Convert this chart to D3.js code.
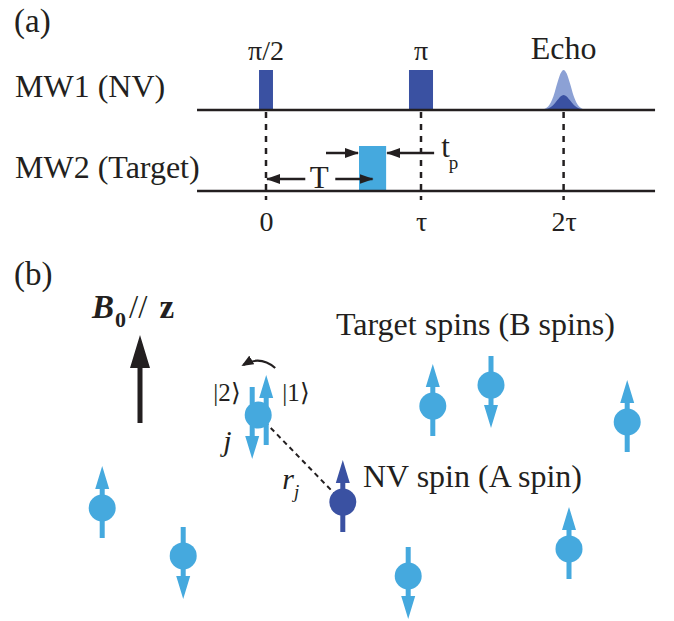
<!DOCTYPE html>
<html>
<head>
<meta charset="utf-8">
<script src="https://cdn.jsdelivr.net/npm/d3@7"></script>
<title>Pulse sequence and spins</title>
<style>
  body { margin: 0; background: #fff; }
  text { font-family: "Liberation Serif", "Times New Roman", serif; fill: #231f20; }
</style>
</head>
<body>
<div id="fig"></div>
<script>
// ---- (a) pulse sequence, time in units of tau ----
var tracks = ["MW1 (NV)", "MW2 (Target)"];
var tickTimes = [0, 1, 1.92];
var tickLabels = ["0", "\u03c4", "2\u03c4"];
var nvPulseLabels = ["\u03c0/2", "\u03c0"];
var nvPulseTimes = [0, 1];
var nvPulseWidths = [0.09, 0.155];
var targetPulse = [0.6, 0.775];   // start, end
var echoTime = 1.92;
var echoOffsets = [-0.14, -0.1, -0.065, -0.04, -0.02, 0, 0.02, 0.04, 0.065, 0.1, 0.14];
var echoOuter = [0.01, 0.09, 0.35, 0.68, 0.91, 1, 0.91, 0.68, 0.35, 0.09, 0.01];
var echoInner = [0, 0.035, 0.13, 0.25, 0.34, 0.375, 0.34, 0.25, 0.13, 0.035, 0];

// ---- (b) spins, sample coordinates 0..100 ----
var spinX = [8.7, 22.2, 63.8, 73.5, 96.2, 59.7, 86.5];
var spinY = [60, 77.1, 23.6, 16.1, 29.3, 84.3, 74.6];
var spinUp = [true, false, true, false, true, false, true];
var spinJ = [34.7, 26.8];
var spinNV = [48.8, 57.9];

var W = 674, H = 621;
var DARK = "#3a51a2", LIGHT = "#45a9de", PALE = "#8ca1d5", INK = "#231f20";

var svg = d3.select("#fig").append("svg")
  .attr("width", W).attr("height", H);

var defs = svg.append("defs");
defs.append("marker")
  .attr("id", "ah").attr("markerUnits", "userSpaceOnUse")
  .attr("viewBox", "0 0 14 10").attr("refX", 13).attr("refY", 5)
  .attr("markerWidth", 14).attr("markerHeight", 10).attr("orient", "auto")
  .append("path").attr("d", "M0,0 L14,5 L0,10 Z").attr("fill", INK);
defs.append("marker")
  .attr("id", "ahs").attr("markerUnits", "userSpaceOnUse")
  .attr("viewBox", "0 0 12 10").attr("refX", 10).attr("refY", 5)
  .attr("markerWidth", 12).attr("markerHeight", 10).attr("orient", "auto")
  .append("path").attr("d", "M0,0 L12,5 L0,10 Z").attr("fill", INK);

var xT = d3.scaleLinear().domain([0, 1]).range([266, 421]);
var yTrack = d3.scalePoint().domain(tracks).range([110, 191]);
var tLine = [-0.445, 2.51];

var ga = svg.append("g");

ga.append("text").attr("x", 14).attr("y", 32).attr("font-size", 33).text("(a)");

ga.selectAll(".trk").data(tracks).enter().append("text")
  .attr("class", "trk")
  .attr("x", 15).attr("y", function(d) { return yTrack(d) - 13; })
  .attr("font-size", 32)
  .text(function(d) { return d; });

// dashed time markers
ga.selectAll(".mark").data(tickTimes).enter().append("line")
  .attr("class", "mark")
  .attr("x1", function(d) { return xT(d); }).attr("x2", function(d) { return xT(d); })
  .attr("y1", yTrack(tracks[0]) + 2).attr("y2", 200)
  .attr("stroke", INK).attr("stroke-width", 2.5).attr("stroke-dasharray", "6,6");

// NV pulses
ga.selectAll(".nvp").data(nvPulseTimes).enter().append("rect")
  .attr("class", "nvp")
  .attr("x", function(d, i) { return xT(d - nvPulseWidths[i] / 2); })
  .attr("width", function(d, i) { return xT(nvPulseWidths[i]) - xT(0); })
  .attr("y", yTrack(tracks[0]) - 40).attr("height", 40)
  .attr("fill", DARK);

ga.selectAll(".nvl").data(nvPulseTimes).enter().append("text")
  .attr("class", "nvl")
  .attr("x", function(d) { return xT(d); }).attr("y", 60)
  .attr("text-anchor", "middle").attr("font-size", 28)
  .text(function(d, i) { return nvPulseLabels[i]; });

// echo
var echoPts = echoOffsets.map(function(o, i) { return {o: o, a: echoOuter[i], b: echoInner[i]}; });
var base1 = yTrack(tracks[0]);
ga.append("path").datum(echoPts)
  .attr("d", d3.area().curve(d3.curveMonotoneX)
    .x(function(d) { return xT(echoTime + d.o); })
    .y0(base1).y1(function(d) { return base1 - d.a * 40; }))
  .attr("fill", PALE);
ga.append("path").datum(echoPts)
  .attr("d", d3.area().curve(d3.curveMonotoneX)
    .x(function(d) { return xT(echoTime + d.o); })
    .y0(base1).y1(function(d) { return base1 - d.b * 40; }))
  .attr("fill", DARK);
ga.append("text").attr("x", xT(echoTime)).attr("y", 59)
  .attr("text-anchor", "middle").attr("font-size", 32).text("Echo");

// target pulse
var base2 = yTrack(tracks[1]);
ga.append("rect")
  .attr("x", xT(targetPulse[0])).attr("width", xT(targetPulse[1]) - xT(targetPulse[0]))
  .attr("y", base2 - 45).attr("height", 45).attr("fill", LIGHT);

// track lines
ga.selectAll(".tl").data(tracks).enter().append("line")
  .attr("class", "tl")
  .attr("x1", xT(tLine[0])).attr("x2", xT(tLine[1]))
  .attr("y1", function(d) { return yTrack(d); }).attr("y2", function(d) { return yTrack(d); })
  .attr("stroke", INK).attr("stroke-width", 2.5);

// T annotation: from 0 to pulse centre
var tMid = (targetPulse[0] + targetPulse[1]) / 2;
var yT = 179;
ga.append("line").attr("x1", xT(tMid / 2) - 14).attr("x2", xT(0) + 1)
  .attr("y1", yT).attr("y2", yT).attr("stroke", INK).attr("stroke-width", 2.5)
  .attr("marker-end", "url(#ah)");
ga.append("line").attr("x1", xT(tMid / 2) + 16).attr("x2", xT(tMid))
  .attr("y1", yT).attr("y2", yT).attr("stroke", INK).attr("stroke-width", 2.5)
  .attr("marker-end", "url(#ah)");
ga.append("text").attr("x", xT(tMid / 2)).attr("y", 188)
  .attr("text-anchor", "middle").attr("font-size", 31).text("T");

// t_p annotation
var yP = 153;
ga.append("line").attr("x1", xT(targetPulse[0]) - 33).attr("x2", xT(targetPulse[0]) - 1)
  .attr("y1", yP).attr("y2", yP).attr("stroke", INK).attr("stroke-width", 2.5)
  .attr("marker-end", "url(#ah)");
ga.append("line").attr("x1", xT(targetPulse[1]) + 48).attr("x2", xT(targetPulse[1]) + 1)
  .attr("y1", yP).attr("y2", yP).attr("stroke", INK).attr("stroke-width", 2.5)
  .attr("marker-end", "url(#ah)");
var tp = ga.append("text").attr("x", xT(targetPulse[1]) + 55).attr("y", 157).attr("font-size", 31);
tp.append("tspan").text("t");
tp.append("tspan").attr("font-size", 19).attr("dy", 12).attr("dx", -1).text("p");

// time axis labels
var axis = ga.append("g").attr("transform", "translate(0,211)")
  .call(d3.axisBottom(xT).tickValues(tickTimes).tickSize(0).tickPadding(0)
    .tickFormat(function(d, i) { return tickLabels[i]; }));
axis.select(".domain").remove();
axis.attr("font-family", null).attr("font-size", null);
axis.selectAll("text").attr("font-size", 28).attr("fill", INK);

// ---- (b) ----
var xs = d3.scaleLinear().domain([0, 100]).range([50, 650]);
var ys = d3.scaleLinear().domain([0, 100]).range([340, 620]);
var gb = svg.append("g");

gb.append("text").attr("x", 14).attr("y", 285).attr("font-size", 33).text("(b)");

var bt = gb.append("text").attr("x", 92).attr("y", 318).attr("font-size", 33);
bt.append("tspan").attr("font-weight", "bold").attr("font-style", "italic").text("B");
bt.append("tspan").attr("font-weight", "bold").attr("font-size", 22).attr("dy", 9).attr("dx", 1).text("0");
bt.append("tspan").attr("dy", -9).attr("dx", 3).text("//");
bt.append("tspan").attr("font-weight", "bold").attr("dx", 4).text(" z");

// field arrow
gb.append("path")
  .attr("d", "M137.5,423 V368 H130 L140,335 L150,368 H142.5 V423 Z")
  .attr("fill", INK);

gb.append("text").attr("x", 336).attr("y", 335).attr("font-size", 32).text("Target spins (B spins)");
gb.append("text").attr("x", 363).attr("y", 487).attr("font-size", 32).text("NV spin (A spin)");

// distance r_j
gb.append("line")
  .attr("x1", xs(spinJ[0])).attr("y1", ys(spinJ[1]))
  .attr("x2", xs(spinNV[0])).attr("y2", ys(spinNV[1]))
  .attr("stroke", INK).attr("stroke-width", 2).attr("stroke-dasharray", "5,4");

function arrowPath(cx, cy, up, tip, tail) {
  var s = up ? -1 : 1;
  var hb = cy + s * (tip - 23);
  return "M" + (cx - 2.5) + "," + (cy - s * tail) +
    " V" + hb + " H" + (cx - 7) + " L" + cx + "," + (cy + s * tip) +
    " L" + (cx + 7) + "," + hb + " H" + (cx + 2.5) + " V" + (cy - s * tail) + " Z";
}

function spin(cx, cy, up, col) {
  gb.append("path").attr("d", arrowPath(cx, cy, up, up ? 42 : 43, up ? 30 : 29)).attr("fill", col);
  gb.append("circle").attr("cx", cx).attr("cy", cy).attr("r", 13.5).attr("fill", col);
}

spinX.forEach(function(x, i) { spin(xs(x), ys(spinY[i]), spinUp[i], LIGHT); });

// spin j in superposition of |1> and |2>
var jx = xs(spinJ[0]), jy = ys(spinJ[1]);
gb.append("path").attr("d", arrowPath(jx - 6, jy, false, 44, 28)).attr("fill", LIGHT);
gb.append("path").attr("d", arrowPath(jx + 8, jy, true, 40, 30)).attr("fill", LIGHT);
gb.append("circle").attr("cx", jx).attr("cy", jy).attr("r", 13.5).attr("fill", LIGHT);
gb.append("path")
  .attr("d", "M" + (jx + 17) + "," + (jy - 47) + " Q" + (jx + 2) + "," + (jy - 60) + " " + (jx - 15) + "," + (jy - 50))
  .attr("fill", "none").attr("stroke", INK).attr("stroke-width", 2.2)
  .attr("marker-end", "url(#ahs)");

gb.append("text").attr("x", jx - 45).attr("y", jy - 14).attr("font-size", 25).text("|2\u27e9");
gb.append("text").attr("x", jx + 24).attr("y", jy - 14).attr("font-size", 25).text("|1\u27e9");
gb.append("text").attr("x", jx - 35).attr("y", jy + 36).attr("font-size", 30)
  .attr("font-style", "italic").text("j");
var rj = gb.append("text").attr("x", jx + 24).attr("y", jy + 74).attr("font-size", 30).attr("font-style", "italic");
rj.append("tspan").text("r");
rj.append("tspan").attr("font-size", 19).attr("dy", 9).text("j");

// NV spin
spin(xs(spinNV[0]), ys(spinNV[1]), true, DARK);
</script>
</body>
</html>
